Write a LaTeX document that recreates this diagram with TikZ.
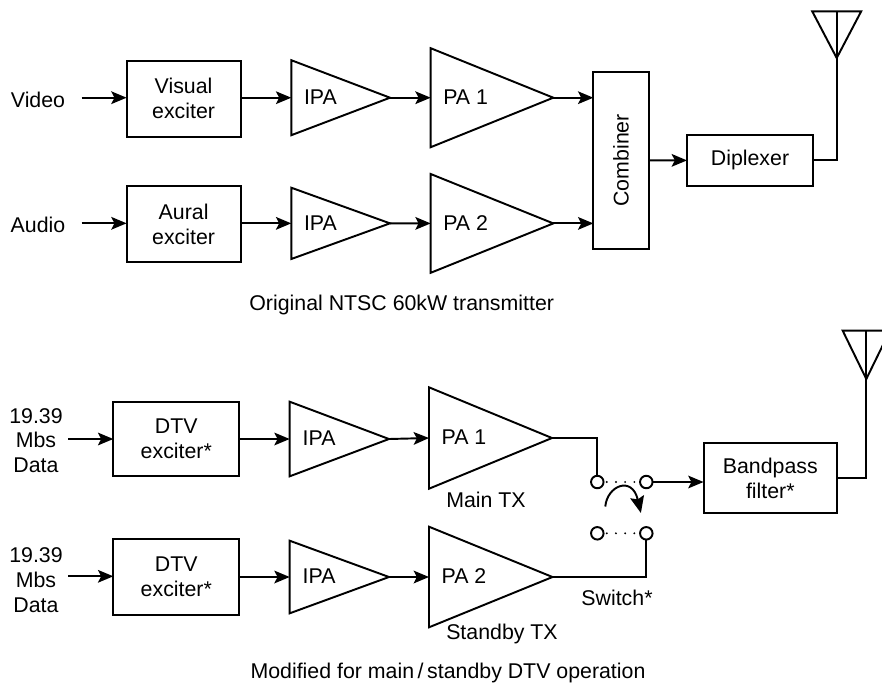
\documentclass[tikz,border=0pt]{standalone}
\usepackage{fontspec}
\usepackage{graphicx}
\setmainfont{Liberation Sans}
\usetikzlibrary{arrows.meta,calc}
\def\un{0.75pt}
\tikzset{
  every node/.style={font=\fontsize{16}{18.6}\selectfont},
  wire/.style={line width=1.45pt,line join=miter},
  flow/.style={wire,-{Stealth[length=11.5pt,width=9.5pt,inset=2.4pt]}},
  blockbox/.style={draw,line width=1.45pt,inner sep=0pt,outer sep=0pt,align=center},
  txt/.style={inner sep=0pt,outer sep=0pt,align=center},
  amplabel/.style={inner sep=0pt,outer sep=0pt,anchor=west},
  contact/.style={circle,draw,line width=1.45pt,fill=white,inner sep=0pt,outer sep=0pt,minimum size=12.5*\un},
  dotlink/.style={line width=1.6pt,line cap=round,dash pattern=on 0pt off 9.2*\un},
}
% \ampblock{name}{x}{tip x}{top y}{bottom y}{label x}{label}
\newcommand{\ampblock}[7]{%
  \coordinate (#1-in) at (#2,{(#4+#5)/2});
  \coordinate (#1-out) at (#3,{(#4+#5)/2});
  \draw[wire,line join=miter] (#2,#4) -- (#1-out) -- (#2,#5) -- cycle;
  \node[amplabel] (#1) at (#6,{(#4+#5)/2-0.5}) {#7};
}
% \anten{name}{x}{top y}{apex y}{half width}
\newcommand{\anten}[5]{%
  \coordinate (#1) at (#2,#4);
  \coordinate (#1-top) at (#2,#3);
  \draw[wire] ({#2-#5},#3) -- ({#2+#5},#3) -- (#1) -- cycle;
  \draw[wire] (#1) -- (#1-top);
}
\begin{document}
\begin{tikzpicture}[x=0.75pt,y=-0.75pt]
\useasboundingbox (0,0) rectangle (882,683);
% --- top chain
\node[txt] (video) at (38,99.5) {Video};
\node[txt] (audio) at (38,225) {Audio};
\coordinate (videoin) at (81.7,97.7);
\coordinate (audioin) at (81.7,223.3);
\node[blockbox,minimum width=114*\un,minimum height=76*\un] (vex) at (183.6,98.7) {Visual\\exciter};
\node[blockbox,minimum width=114*\un,minimum height=76*\un] (aex) at (183.6,224.3) {Aural\\exciter};
\ampblock{ipaA}{291.3}{390}{60.2}{135.2}{304}{IPA}
\ampblock{ipaB}{291.3}{390}{187.7}{259}{304}{IPA}
\ampblock{paA}{430.7}{553.3}{48.2}{147.2}{443.3}{PA 1}
\ampblock{paB}{430.7}{553.3}{174}{272.8}{443.3}{PA 2}
\node[blockbox,minimum width=55.3*\un,minimum height=176.7*\un] (comb) at (621,160.3) {\rotatebox{90}{Combiner}};
\node[blockbox,minimum width=126*\un,minimum height=50.7*\un] (dip) at (750,160.4) {Diplexer};
\anten{antA}{836.7}{11.3}{58}{24.5}
\draw[flow] (videoin) -- (vex.west |- videoin);
\draw[flow] (audioin) -- (aex.west |- audioin);
\draw[flow] (vex.east |- ipaA-in) -- (ipaA-in);
\draw[flow] (aex.east |- ipaB-in) -- (ipaB-in);
\draw[flow] (ipaA-out) -- (paA-in);
\draw[flow] (ipaB-out) -- (paB-in);
\draw[flow] (paA-out) -- (comb.west |- paA-out);
\draw[flow] (paB-out) -- (comb.west |- paB-out);
\draw[flow] (comb.east) -- (dip.west);
\draw[wire] (dip.east) -| (antA);
\node[txt] (captop) at (401.7,305) {Original NTSC 60kW transmitter};
% --- bottom chain
\node[txt] (dataA) at (36,440.5) {19.39\\Mbs\\Data};
\node[txt] (dataB) at (36,580) {19.39\\Mbs\\Data};
\coordinate (dataAin) at (68.3,439);
\coordinate (dataBin) at (68.3,576.3);
\node[blockbox,minimum width=126*\un,minimum height=74.3*\un] (dexA) at (176.3,438.8) {DTV\\exciter*};
\node[blockbox,minimum width=126*\un,minimum height=76.3*\un] (dexB) at (176.3,577.1) {DTV\\exciter*};
\ampblock{ipaC}{289.7}{389}{401.7}{476.3}{302.7}{IPA}
\ampblock{ipaD}{289.7}{389}{540.7}{613.3}{302.7}{IPA}
\ampblock{paC}{429}{552}{387.3}{488.7}{441.7}{PA 1}
\ampblock{paD}{429}{552.5}{526.7}{627.3}{441.7}{PA 2}
\node[txt] (maintx) at (486,499.5) {Main TX};
\node[txt] (standby) at (502,634) {Standby TX};
\node[txt] (switchlab) at (617,597.5) {Switch*};
\node[contact] (swA) at (597.3,482) {};
\node[contact] (swB) at (646.3,482) {};
\node[contact] (swC) at (597.3,533.3) {};
\node[contact] (swD) at (646.3,533.3) {};
\draw[dotlink] ($(swA.east)+(3.2,0)$) -- (swB.west);
\draw[dotlink] ($(swC.east)+(3.2,0)$) -- (swD.west);
\coordinate (turnA) at (605.3,506.5);
\coordinate (turnB) at (640.9,513);
\draw[wire,-{Stealth[length=12.5pt,width=10.5pt,inset=2pt]}] (turnA) .. controls (607,486) and (632,475) .. (turnB);
\node[blockbox,minimum width=133.5*\un,minimum height=70.7*\un] (bpf) at (770.3,478) {Bandpass\\filter*};
\anten{antB}{866.3}{330.7}{379}{23.6}
\draw[flow] (dataAin) -- (dexA.west |- dataAin);
\draw[flow] (dataBin) -- (dexB.west |- dataBin);
\draw[flow] (dexA.east |- ipaC-in) -- (ipaC-in);
\draw[flow] (dexB.east |- ipaD-in) -- (ipaD-in);
\draw[flow] (ipaC-out) -- (paC-in);
\draw[flow] (ipaD-out) -- (paD-in);
\draw[wire] (paC-out) -| (swA.north);
\draw[wire] (paD-out) -| (swD.south);
\draw[flow] (swB.east) -- (bpf.west |- swB.east);
\draw[wire] (bpf.east) -| (antB);
\node[txt] (capbot) at (448,673) {Modified for main\,/\,standby DTV operation};
\end{tikzpicture}
\end{document}
